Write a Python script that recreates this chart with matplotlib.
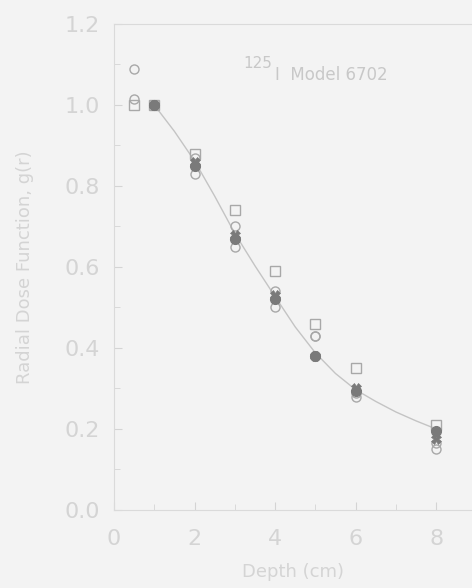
import matplotlib.pyplot as plt
from matplotlib.ticker import MultipleLocator

# radial dose function data, 125I model 6702
depth_a = [0.5, 1, 2, 3, 4, 5, 6, 8]
sq_vals = [1.00, 1.00, 0.88, 0.74, 0.59, 0.46, 0.35, 0.21]

depth_b = [0.5, 1, 2, 3, 4, 5, 6, 8]
circ_hi = [1.09, 1.00, 0.83, 0.65, 0.50, 0.43, 0.28, 0.15]

depth_c = [0.5, 1, 2, 3, 4, 5, 6, 8]
circ_lo = [1.015, 1.00, 0.87, 0.70, 0.54, 0.43, 0.29, 0.165]

depth_d = [1, 2, 3, 4, 5, 6, 8]
star_vals = [1.00, 0.86, 0.68, 0.53, 0.38, 0.30, 0.175]

depth_e = [1, 2, 3, 4, 5, 6, 8]
dot_vals = [1.00, 0.85, 0.67, 0.52, 0.38, 0.295, 0.195]

fit_depth = [1, 1.5, 2, 2.5, 3, 3.5, 4, 4.5, 5, 5.5, 6, 6.5, 7, 7.5, 8]
fit_vals = [1.00, 0.935, 0.862, 0.775, 0.683, 0.603, 0.527, 0.452, 0.388, 0.337,
            0.297, 0.268, 0.242, 0.220, 0.200]

xticks = [0, 2, 4, 6, 8]
yticks = [0.0, 0.2, 0.4, 0.6, 0.8, 1.0, 1.2]

bg = "#f3f3f3"
txt = "#d4d4d4"
mk = "#a8a8a8"
dark = "#7a7a7a"

fig = plt.figure(figsize=(4.72, 5.88), dpi=100, facecolor=bg)
ax = fig.add_axes([0.2415, 0.1327, 0.7585, 0.8265], facecolor=bg)

ax.plot(fit_depth, fit_vals, color="#c4c4c4", lw=1.0, zorder=1)
ax.plot(depth_a, sq_vals, ls="none", marker="s", ms=7.5, mfc="none", mec=mk, mew=1.0)
ax.plot(depth_b, circ_hi, ls="none", marker="o", ms=6.5, mfc="none", mec=mk, mew=1.0)
ax.plot(depth_c, circ_lo, ls="none", marker="o", ms=6.5, mfc="none", mec=mk, mew=1.0)
ax.plot(depth_d, star_vals, ls="none", marker="X", ms=7, color=dark, mew=0.5)
ax.plot(depth_e, dot_vals, ls="none", marker="o", ms=7, color=dark)

ax.set_xlim(0, 8.89)
ax.set_ylim(0, 1.2)
ax.set_xticks(xticks)
ax.set_yticks(yticks)
ax.set_yticklabels([f"{v:.1f}" for v in yticks])
ax.xaxis.set_minor_locator(MultipleLocator(1))
ax.yaxis.set_minor_locator(MultipleLocator(0.1))
ax.tick_params(which="both", direction="in", colors=txt, labelsize=16)
ax.tick_params(axis="y", pad=10)
ax.tick_params(axis="x", pad=14)
ax.tick_params(which="major", length=6)
ax.tick_params(which="minor", length=4)

for side in ["left", "bottom", "top"]:
    ax.spines[side].set_color("#dadada")
ax.spines["right"].set_visible(False)

ax.set_xlabel("Depth (cm)", fontsize=13, color=txt, labelpad=10)
ax.set_ylabel("Radial Dose Function, g(r)", fontsize=13, color=txt, labelpad=22)

ax.text(3.22, 1.085, "125", fontsize=11, color="#c8c8c8", ha="left", va="bottom")
ax.text(4.0, 1.075, "I  Model 6702", fontsize=12, color="#c8c8c8",
        ha="left", va="center")

fig.savefig("out.png", dpi=100, facecolor=bg)
